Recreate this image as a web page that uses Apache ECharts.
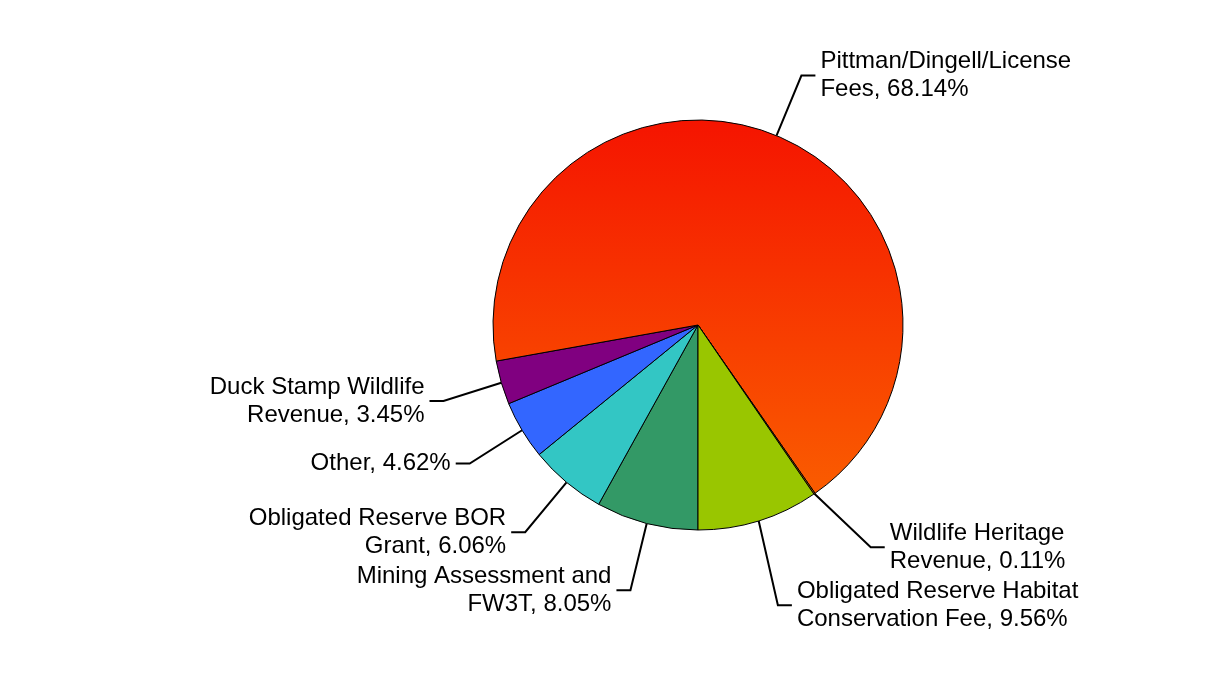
<!DOCTYPE html>
<html>
<head>
<meta charset="utf-8">
<script src="https://cdn.jsdelivr.net/npm/echarts@6/dist/echarts.min.js"></script>
<style>
html,body{margin:0;padding:0;background:#fff;}
#chart{width:1226px;height:694px;}
</style>
</head>
<body>
<div id="chart"></div>
<script>
// Slices, clockwise starting from the bottom of the pie
var categories = [
  'Mining Assessment and\nFW3T',
  'Obligated Reserve BOR\nGrant',
  'Other',
  'Duck Stamp Wildlife\nRevenue',
  'Pittman/Dingell/License\nFees',
  'Wildlife Heritage\nRevenue',
  'Obligated Reserve Habitat\nConservation Fee'
];
var shares = [8.05, 6.06, 4.62, 3.45, 68.14, 0.11, 9.56];
var sliceColors = ['#339966', '#33c6c4', '#3366ff', '#800080', 'red', '#c86400', '#99c600'];

var chart = echarts.init(document.getElementById('chart'));

var data = categories.map(function (name, i) {
  var color = sliceColors[i];
  if (color === 'red') {
    color = new echarts.graphic.LinearGradient(0, 0, 0, 1, [
      { offset: 0, color: '#f51400' },
      { offset: 1, color: '#fa5c00' }
    ]);
  }
  return { name: name, value: shares[i], itemStyle: { color: color } };
});

chart.setOption({
  animation: false,
  backgroundColor: '#ffffff',
  series: [{
    type: 'pie',
    center: [698, 325],
    radius: 205,
    startAngle: 270,
    clockwise: true,
    avoidLabelOverlap: true,
    data: data,
    itemStyle: { borderColor: '#000', borderWidth: 1 },
    label: {
      show: true,
      color: '#000',
      fontFamily: 'Liberation Sans, Arial, sans-serif',
      fontSize: 24,
      lineHeight: 28,
      formatter: function (p) { return p.name + ', ' + p.value.toFixed(2) + '%'; }
    },
    labelLine: {
      show: true,
      length: 65,
      length2: 14,
      lineStyle: { color: '#000', width: 2 }
    }
  }]
});
</script>
</body>
</html>
